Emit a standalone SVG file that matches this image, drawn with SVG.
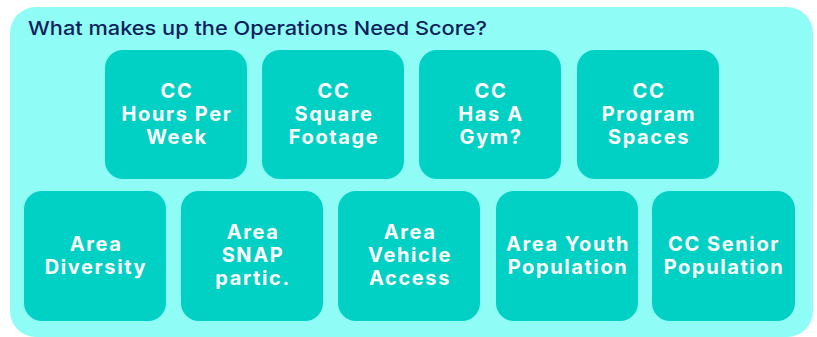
<svg xmlns="http://www.w3.org/2000/svg" width="817" height="337" viewBox="0 0 817 337">
<style>
.bg{fill:#8ffdf5}
.box{fill:#00d1c4}
.t{font-family:Inter,"Open Sans","DejaVu Sans",sans-serif;font-weight:700;font-size:20px;fill:#ffffff;text-anchor:middle;letter-spacing:1.6px}
.title{font-family:Inter,"Open Sans","DejaVu Sans",sans-serif;font-weight:500;font-size:19px;fill:#0f1f5c}
</style>
<rect class="bg" x="10" y="7" width="803" height="330" rx="26"/>
<text class="title" x="28" y="35" textLength="459" lengthAdjust="spacingAndGlyphs">What makes up the Operations Need Score?</text>
<g id="n1"><rect class="box" x="105" y="50" width="142" height="129" rx="18"/><text class="t" x="177" y="98">CC</text><text class="t" x="177" y="121">Hours Per</text><text class="t" x="177" y="144">Week</text></g>
<g id="n2"><rect class="box" x="262" y="50" width="142" height="129" rx="18"/><text class="t" x="334" y="98">CC</text><text class="t" x="334" y="121">Square</text><text class="t" x="334" y="144">Footage</text></g>
<g id="n3"><rect class="box" x="419" y="50" width="142" height="129" rx="18"/><text class="t" x="491" y="98">CC</text><text class="t" x="491" y="121">Has A</text><text class="t" x="491" y="144">Gym?</text></g>
<g id="n4"><rect class="box" x="577" y="50" width="142" height="129" rx="18"/><text class="t" x="649" y="98">CC</text><text class="t" x="649" y="121">Program</text><text class="t" x="649" y="144">Spaces</text></g>
<g id="n5"><rect class="box" x="24" y="191" width="142" height="130" rx="18"/><text class="t" x="96" y="251">Area</text><text class="t" x="96" y="274">Diversity</text></g>
<g id="n6"><rect class="box" x="181" y="191" width="142" height="130" rx="18"/><text class="t" x="253" y="239">Area</text><text class="t" x="253" y="262">SNAP</text><text class="t" x="253" y="285">partic.</text></g>
<g id="n7"><rect class="box" x="338" y="191" width="142" height="130" rx="18"/><text class="t" x="410" y="239">Area</text><text class="t" x="410" y="262">Vehicle</text><text class="t" x="410" y="285">Access</text></g>
<g id="n8"><rect class="box" x="496" y="191" width="142" height="130" rx="18"/><text class="t" x="568" y="251">Area Youth</text><text class="t" x="568" y="274">Population</text></g>
<g id="n9"><rect class="box" x="652" y="191" width="143" height="130" rx="18"/><text class="t" x="724" y="251">CC Senior</text><text class="t" x="724" y="274">Population</text></g>
<g id="connectors"/>
</svg>
